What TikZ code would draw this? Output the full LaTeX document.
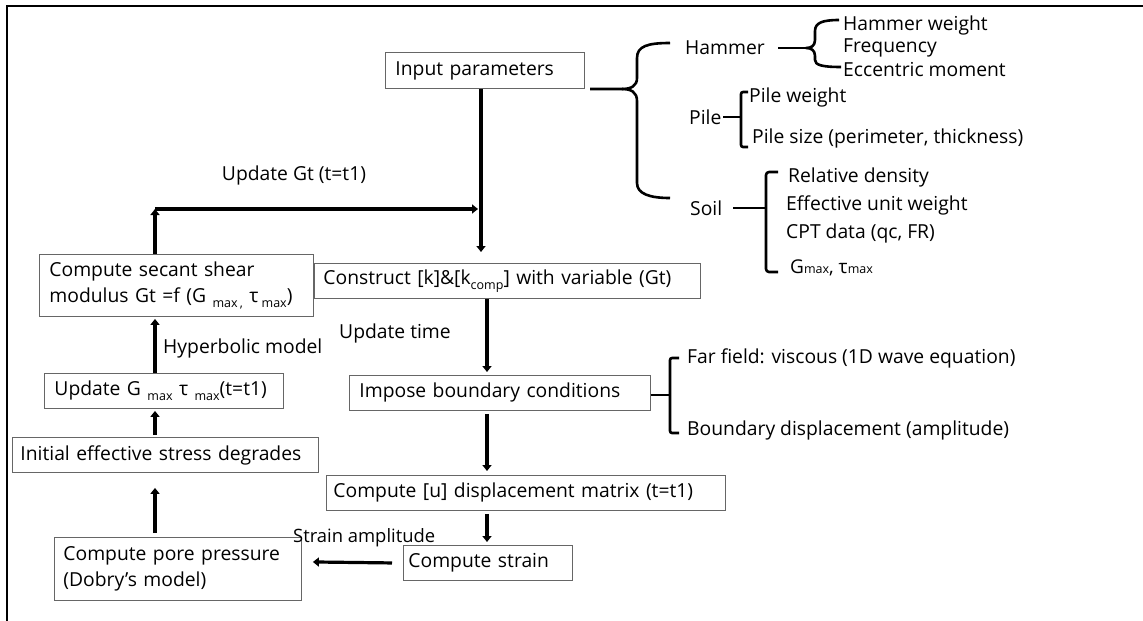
\documentclass[tikz,border=0pt]{standalone}
\usepackage{fontspec}
\setmainfont{Open Sans}
\usetikzlibrary{arrows.meta,calc}
\newcommand\mfs{\fontsize{19.3}{26}\selectfont}
\newcommand\sbx[1]{\raisebox{-4.5pt}{\fontsize{12.5}{12}\selectfont #1}}
\begin{document}
\begin{tikzpicture}[x=1pt,y=-1pt,
  box/.style={draw=black!60, line width=0.9pt, anchor=north west, align=left,
    inner xsep=9pt, inner ysep=0pt, font=\mfs, text=black},
  lbl/.style={anchor=west, inner sep=0pt, font=\mfs, text=black},
  arr/.style={line width=3.2pt, -{Triangle[length=6pt,width=9pt]}},
  brc/.style={line width=2.6pt, line join=round}
]
\useasboundingbox (0,0) rectangle (1143,621);
\fill[white] (0,0) rectangle (1143,621);
% frame
\draw[line width=2pt] (7,621) -- (7,6) -- (1143,6);

% boxes
\node[box, inner xsep=10pt, text width=179pt, minimum height=36pt] (inp) at (385,52) {Input parameters};
\node[box, text width=368pt, minimum height=35pt] (cons) at (314,263) {Construct [k]\&[k\sbx{comp}] with variable (Gt)};
\node[box, inner xsep=10pt, text width=254pt, minimum height=62pt] (sec) at (39,254) {Compute secant shear\\modulus Gt =f (G \sbx{max\,,} τ\,\sbx{max})};
\node[box, inner xsep=10pt, text width=219pt, minimum height=35pt] (upd) at (44,373) {Update G \sbx{max} τ \sbx{max}(t=t1)};
\node[box, inner xsep=10pt, text width=281pt, minimum height=35pt] (imp) at (349,375) {Impose boundary conditions};
\node[box, inner xsep=8pt, text width=290pt, minimum height=35pt] (ini) at (12,437) {Initial effective stress degrades};
\node[box, inner xsep=7pt, text width=385pt, minimum height=35pt] (cu) at (326,475) {Compute [u] displacement matrix (t=t1)};
\node[box, inner xsep=5pt, text width=159pt, minimum height=35pt] (str) at (403,545) {Compute strain};
\node[box, inner xsep=9pt, text width=229pt, minimum height=63pt] (pore) at (54,537) {Compute pore pressure\\(Dobry’s model)};

% labels
\node[lbl, anchor=center] (lgt) at (294,175) {Update Gt (t=t1)};
\node[lbl] (lhy) at (163,348) {Hyperbolic model};
\node[lbl] (lut) at (339,333) {Update time};
\node[lbl, font=\fontsize{18.4}{22}\selectfont] (lsa) at (293,538) {Strain amplitude};

% connectors
\coordinate (jn) at (481,209);
\coordinate (cr) at (155,209);
\coordinate (cx) at (487,0);
\draw[line width=3.2pt] (inp.south -| jn) -- (jn);
\draw[arr] (jn) -- ($(cons.north -| jn)+(0,-11)$);
\draw[arr] (sec.north -| cr) -- (cr);
\draw[arr] (cr) -- ($(jn)+(-3,0)$);
\draw[arr] (upd.north -| cr) -- ($(sec.south -| cr)+(0,2)$);
\draw[arr] ($(ini.north -| cr)+(0,-2)$) -- ($(upd.south -| cr)+(0,2)$);
\draw[arr] ($(pore.north -| cr)+(0,-4)$) -- ($(ini.south -| cr)+(0,15)$);
\draw[arr] (cons.south -| cx) -- ($(imp.north -| cx)+(0,-3)$);
\draw[arr] ($(imp.south -| cx)+(0,3)$) -- ($(cu.north -| cx)+(0,-4)$);
\draw[arr] ($(cu.south -| cx)+(0,3)$) -- ($(str.north -| cx)+(0,-3)$);
\draw[arr] ($(str.west)+(-11,0)$) -- ($(pore.east)+(11,-7)$);

% right side texts
\node[lbl] (ham) at (685,48) {Hammer};
\node[lbl] (hw) at (843,25) {Hammer weight};
\node[lbl] (hf) at (843,48) {Frequency};
\node[lbl] (he) at (843,70) {Eccentric moment};
\node[lbl] (pil) at (689,117) {Pile};
\node[lbl] (pw) at (749,97) {Pile weight};
\node[lbl] (ps) at (752,138) {Pile size (perimeter, thickness)};
\node[lbl] (soil) at (690,208) {Soil};
\node[lbl] (rd) at (788,177) {Relative density};
\node[lbl] (eu) at (786,205) {Effective unit weight};
\node[lbl] (cpt) at (786,233) {CPT data (qc, FR)};
\node[lbl] (gm) at (790,268) {{\fontsize{19}{19}\selectfont G}{\fontsize{12.5}{12}\selectfont max}{\fontsize{19}{19}\selectfont, τ}{\fontsize{12.5}{12}\selectfont max}};
\node[lbl] (ff) at (687,358) {Far field: viscous (1D wave equation)};
\node[lbl] (bd) at (687,430) {Boundary displacement (amplitude)};

% main brace
\draw[brc] (670,43) .. controls (648,43) and (637,46) .. (637,58) -- (637,78)
  .. controls (637,86) and (631,89) .. (622,89) -- (590,89);
\draw[brc] (622,89) .. controls (631,89) and (637,92) .. (637,101) -- (637,183)
  .. controls (637,194) and (650,198) .. (670,198);
% hammer brace
\draw[brc] (778,48) -- (806,48);
\draw[brc] (839,20) .. controls (822,20) and (815,23) .. (815,31) -- (815,40)
  .. controls (815,46) and (811,48) .. (806,48)
  .. controls (811,48) and (815,50) .. (815,56) -- (815,60)
  .. controls (815,65) and (822,67) .. (841,67);
% pile bracket
\draw[brc] (723,117) -- (741,117);
\draw[brc, rounded corners=2pt] (748,92) -- (741,92) -- (741,147) -- (748,147);
% soil bracket
\draw[brc] (733,208) -- (766,208);
\draw[brc, rounded corners=3pt] (778,172) -- (766,172) -- (766,272) -- (778,272);
% impose bracket
\draw[brc] (imp.east) ++(0,2) -- ++(20,0);
\draw[brc, rounded corners=2pt] (679,358) -- (670,358) -- (670,433) -- (679,433);
\end{tikzpicture}
\end{document}
